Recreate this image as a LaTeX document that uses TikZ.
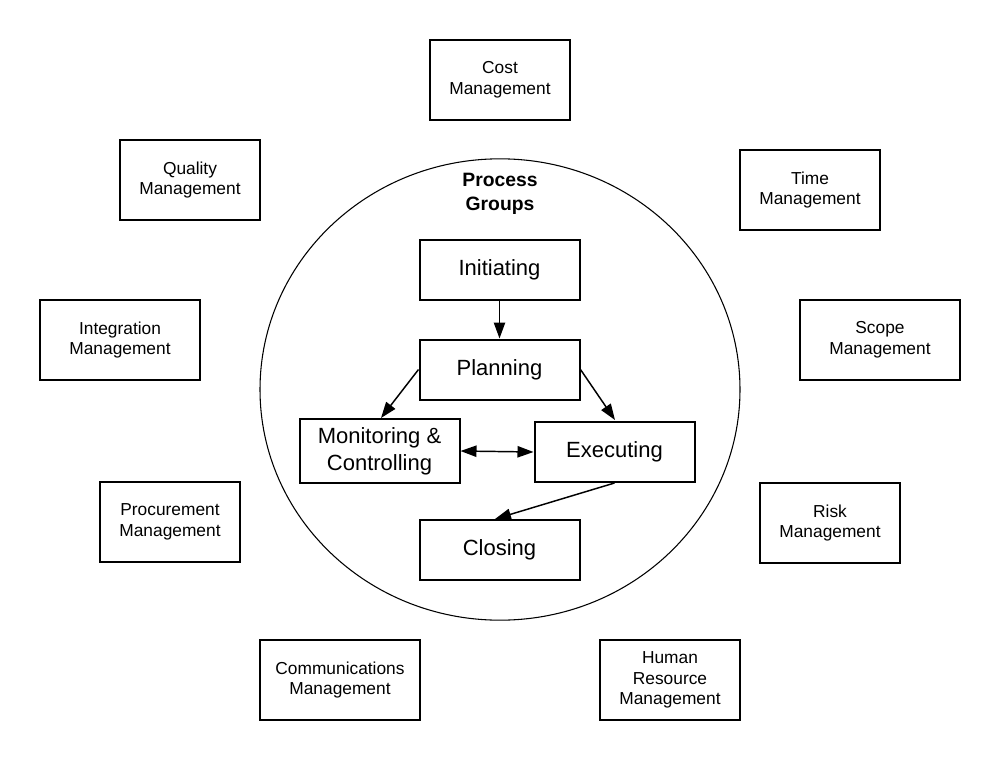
\documentclass[tikz,border=0pt]{standalone}
\usepackage{fontspec}
\setmainfont{Liberation Sans}
\usetikzlibrary{arrows.meta}
\begin{document}
\begin{tikzpicture}[x=0.75pt,y=-0.75pt,
  outer/.style={draw,line width=1.5pt,minimum width=105pt,minimum height=60pt,align=center,font=\fontsize{13}{15.5}\selectfont,inner sep=0pt},
  widebox/.style={outer,minimum width=120pt},
  inner/.style={draw,line width=1.5pt,minimum width=120pt,minimum height=45pt,align=center,font=\fontsize{16.5}{20}\selectfont,inner sep=0pt},
  tip/.tip={Triangle[length=12pt,width=8.5pt]},
  conn/.style={line width=1.1pt,-tip},
  dconn/.style={line width=1.1pt,tip-tip}]
\useasboundingbox (0,0) rectangle (1000,760);
\draw[line width=0.8pt] (500,389.5) ellipse [x radius=180pt, y radius=173pt];
\node[font=\bfseries\fontsize{14.5}{18}\selectfont,align=center] (pg) at (500,194) {Process\\Groups};
% outer boxes
\node[outer] (cost) at (500,80) {Cost\\Management};
\node[outer] (quality) at (190,180) {Quality\\Management};
\node[outer] (time) at (810,190) {Time\\Management};
\node[widebox] (integ) at (120,340) {Integration\\Management};
\node[widebox] (scope) at (880,340) {Scope\\Management};
\node[outer] (proc) at (170,522) {Procurement\\Management};
\node[outer] (risk) at (830,523) {Risk\\Management};
\node[widebox] (comm) at (340,680) {Communications\\Management};
\node[outer] (hr) at (670,680) {Human\\Resource\\Management};
% inner boxes
\node[inner] (init) at (499.5,269.5) {Initiating};
\node[inner] (plan) at (499.5,369.5) {Planning};
\node[inner,minimum height=47.5pt] (mon) at (379.5,451) {Monitoring \&\\Controlling};
\node[inner] (exec) at (614.5,452) {Executing};
\node[inner] (close) at (499.5,549.5) {Closing};
% connectors
\draw[conn] (init.south) -- (plan.north);
\draw[conn] (plan.west) -- (381,418);
\draw[conn] (plan.east) -- (615,420);
\draw[dconn] (mon.east) -- (exec.west);
\draw[conn] (exec.south) -- (495,519);
\end{tikzpicture}
\end{document}
